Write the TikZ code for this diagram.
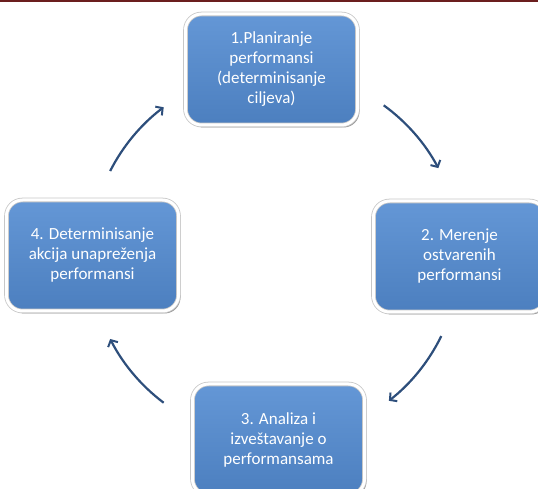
\documentclass[tikz,border=0pt]{standalone}
\usepackage{fontspec}
\setmainfont{Carlito}
\usetikzlibrary{positioning,arrows.meta,shadows}

\definecolor{boxtop}{HTML}{6497D6}
\definecolor{boxbot}{HTML}{4C7FBF}
\definecolor{flowblue}{HTML}{2D4E7B}
\definecolor{rulered}{HTML}{6B1E1E}

\begin{document}
\begin{tikzpicture}[
    x=1pt, y=1pt,
    box/.style={
        rectangle,
        rounded corners=16pt,
        top color=boxtop,
        bottom color=boxbot,
        draw=black!22,
        double=white,
        double distance=3pt,
        line width=0.8pt,
        minimum width=172pt,
        minimum height=111pt,
        align=center,
        text=white,
        font=\fontsize{17}{20}\selectfont,
        general shadow={fill=black!40, shadow xshift=2pt, shadow yshift=-2.5pt}
    },
    flow/.style={-{Straight Barb[length=5pt,width=11pt,line width=2pt]}, line width=2.2pt, flowblue}
]
\useasboundingbox (0,0) rectangle (538,489);
\clip (0,0) rectangle (538,489);
\fill[rulered] (0,486.5) rectangle (538,489);

\coordinate (hub) at (275,234);
\node[box] (plan) at (271.5,419.5) {1.Planiranje\\performansi\\(determinisanje\\ciljeva)};
\node[box] (meas) at (459.5,232.5) {2. Merenje\\ostvarenih\\performansi};
\node[box] (anal) at (278.5,49.5) {3. Analiza i\\izveštavanje o\\performansama};
\node[box] (act) at (92.5,233.5) {4. Determinisanje\\akcija unapreženja\\performansi};

% cycle arrows around the hub
\draw[flow] ([shift={(54:185)}]hub) arc[start angle=54, end angle=28, radius=185];
\draw[flow] ([shift={(-26:185)}]hub) arc[start angle=-26, end angle=-52, radius=185];
\draw[flow] ([shift={(233:185)}]hub) arc[start angle=233, end angle=207, radius=185];
\draw[flow] ([shift={(153:185)}]hub) arc[start angle=153, end angle=127, radius=185];
\end{tikzpicture}
\end{document}
